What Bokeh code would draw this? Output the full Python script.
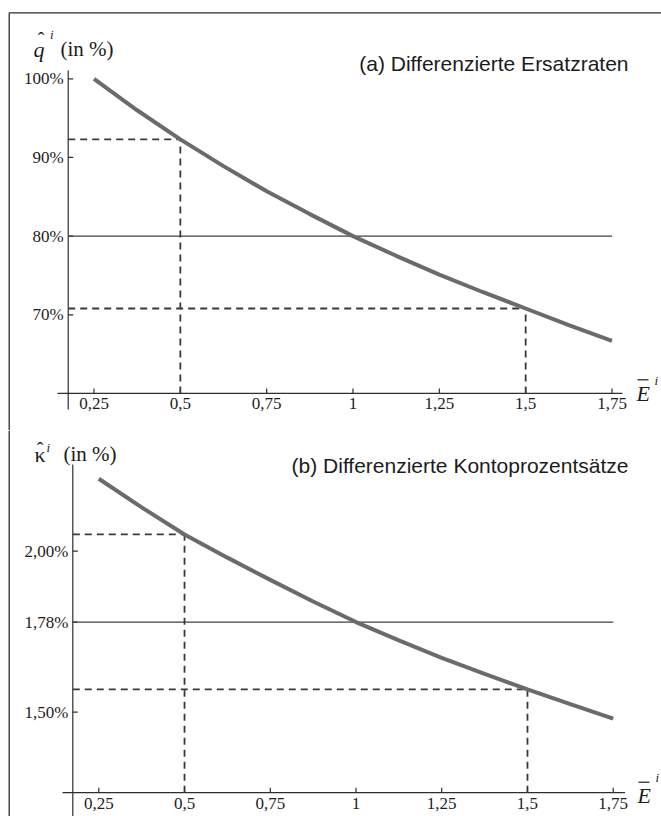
from bokeh.plotting import figure
from bokeh.layouts import column
from bokeh.models import Range1d
from bokeh.core.properties import value
from bokeh.embed import file_html
from bokeh.resources import INLINE

# ---------------- data ----------------
E_vals = [0.25, 0.375, 0.5, 0.625, 0.75, 0.875, 1.0, 1.125, 1.25, 1.375, 1.5, 1.625, 1.75]
q_hat = [100.0, 96.0, 92.3, 88.9, 85.7, 82.8, 80.0, 77.5, 75.1, 72.9, 70.8, 68.7, 66.7]          # in %
kappa_hat = [2.225, 2.136, 2.052, 1.980, 1.911, 1.844, 1.780, 1.723, 1.669, 1.619, 1.571, 1.525, 1.480]  # in %

x_ticks = [0.25, 0.5, 0.75, 1.0, 1.25, 1.5, 1.75]
x_tick_labels = ["0,25", "0,5", "0,75", "1", "1,25", "1,5", "1,75"]
q_ticks = [100, 90, 80, 70]
q_tick_labels = ["100%", "90%", "80%", "70%"]
k_ticks = [2.00, 1.78, 1.50]
k_tick_labels = ["2,00%", "1,78%", "1,50%"]

ref_E = [0.5, 1.5]           # dashed guide points
ref_q = [92.3, 70.8]
ref_k = [2.052, 1.571]
base_E_end = 1.75            # solid reference line at E = 1 level
base_q = 80.0
base_k = 1.78
q_axis_min = 60.0            # level where horizontal axis crosses
k_axis_min = 1.25

title_a = "(a) Differenzierte Ersatzraten"
title_b = "(b) Differenzierte Kontoprozentsätze"

# ---------------- layout (page pixels) ----------------
W = 661
PAGE_X0 = 0
SERIF = value("Liberation Serif")
SANS = value("Liberation Sans")
INK = "#1c1c1c"
AXIS = "#2e2e2e"
CURVE = "#6b6b6b"
DASH = "#3a3a3a"


class PixelMap:
    """maps absolute page pixels to data values for one panel"""
    def __init__(self, top, height, xa, xb, ya, yb):
        self.top, self.height = top, height
        self.xa, self.ya = xa, ya
        self.sx = (xb[1] - xa[1]) / (xb[0] - xa[0])
        self.sy = (yb[1] - ya[1]) / (yb[0] - ya[0])

    def X(self, px):
        return self.xa[1] + (px - self.xa[0]) * self.sx

    def Y(self, py):
        return self.ya[1] + (py - self.ya[0]) * self.sy

    def ranges(self):
        return (Range1d(self.X(PAGE_X0), self.X(PAGE_X0 + W)),
                Range1d(self.Y(self.top + self.height), self.Y(self.top)))


def txt(p, x, y, s, font=SERIF, size="17px", style="normal", align="left"):
    p.text(x=x, y=y, text=s, text_font=font, text_font_size=size, text_font_style=style,
           text_align=align, text_baseline="middle", text_color=INK)


def make_panel(M, yvals, yticks, ylabels, ref_y, base_y, axis_min, title, cfg):
    xr, yr = M.ranges()
    p = figure(width=W, height=M.height, x_range=xr, y_range=yr,
               output_backend="svg", toolbar_location=None,
               x_axis_location=None, y_axis_location=None,
               min_border=0, outline_line_color=None,
               background_fill_color="white", border_fill_color="white")
    p.grid.visible = False

    bottom_px = M.top + M.height
    E_axis = M.X(cfg["yaxis_px"])

    # outer frame (left and top edge)
    p.segment(x0=[M.X(8.7)], y0=[M.Y(cfg["frame_top"])], x1=[M.X(8.7)], y1=[M.Y(bottom_px)],
              line_color=AXIS, line_width=1.3)
    if cfg.get("draw_top"):
        p.segment(x0=[M.X(8.7)], y0=[M.Y(cfg["frame_top"])], x1=[M.X(PAGE_X0 + W)],
                  y1=[M.Y(cfg["frame_top"])], line_color=AXIS, line_width=1.3)

    # axes (crossing lines)
    p.segment(x0=[E_axis], y0=[M.Y(cfg["yaxis_top"])], x1=[E_axis], y1=[M.Y(cfg["yaxis_bottom"])],
              line_color=AXIS, line_width=1.2)
    p.segment(x0=[M.X(cfg["xaxis_left"])], y0=[axis_min], x1=[M.X(cfg["xaxis_right"])], y1=[axis_min],
              line_color=AXIS, line_width=1.2)

    # ticks (inside)
    tx = 5 * M.sx
    ty = -5 * M.sy
    p.segment(x0=[E_axis] * len(yticks), y0=yticks, x1=[E_axis + tx] * len(yticks), y1=yticks,
              line_color=AXIS, line_width=1.2)
    p.segment(x0=x_ticks, y0=[axis_min] * len(x_ticks), x1=x_ticks,
              y1=[axis_min + ty] * len(x_ticks), line_color=AXIS, line_width=1.2)

    # tick labels
    txt(p, [E_axis - 4.5 * M.sx] * len(yticks), yticks, ylabels, align="right")
    txt(p, x_ticks, [axis_min + 10.5 * M.sy] * len(x_ticks), x_tick_labels, align="center")

    # solid reference level
    p.segment(x0=[E_axis], y0=[base_y], x1=[base_E_end], y1=[base_y], line_color="#404040", line_width=1.2)

    # dashed guides
    p.segment(x0=[E_axis] * len(ref_E), y0=ref_y, x1=ref_E, y1=ref_y,
              line_color=DASH, line_width=1.8, line_dash="7 5")
    p.segment(x0=ref_E, y0=[axis_min] * len(ref_E), x1=ref_E, y1=ref_y,
              line_color=DASH, line_width=1.8, line_dash="7 5")

    # curve
    p.line(E_vals, yvals, line_color=CURVE, line_width=4)

    # panel title
    txt(p, [M.X(628)], [M.Y(cfg["title_c"])], [title], font=SANS, size="21px", align="right")

    # y label: symbol with hat, superscript i, "(in %)"
    lc = cfg["label_c"]
    txt(p, [M.X(cfg["sym_x"])], [M.Y(lc)], [cfg["symbol"]], size="22px", style=cfg["sym_style"])
    txt(p, [M.X(cfg["hat_x"])], [M.Y(cfg["hat_c"])], ["\u02c6"], size="20px", align="center")
    txt(p, [M.X(cfg["sup_x"])], [M.Y(cfg["sup_c"])], ["i"], size="13px", style="italic")
    txt(p, [M.X(cfg["in_x"])], [M.Y(lc)], ["(in %)"], size="21px")

    # x label: E with overline and superscript i
    ec = cfg["E_c"]
    ex = cfg["E_x"]
    txt(p, [M.X(ex)], [M.Y(ec)], ["E"], size="22px", style="italic")
    p.segment(x0=[M.X(ex + 1)], y0=[M.Y(cfg["bar_y"])], x1=[M.X(ex + 12)], y1=[M.Y(cfg["bar_y"])],
              line_color=INK, line_width=1.2)
    txt(p, [M.X(ex + 18)], [M.Y(cfg["Esup_c"])], ["i"], size="13px", style="italic")
    return p


M_top = PixelMap(0, 430, (93.5, x_ticks[0]), (611.5, x_ticks[-1]), (78.3, q_ticks[0]), (314.3, q_ticks[-1]))
M_bot = PixelMap(430, 386, (98.3, x_ticks[0]), (612.7, x_ticks[-1]), (550.7, k_ticks[0]), (711.7, k_ticks[-1]))

cfg_top = dict(frame_top=12.3, draw_top=True, yaxis_px=67.7, yaxis_top=70, yaxis_bottom=409,
               xaxis_left=57, xaxis_right=622, title_c=63,
               label_c=48.7, symbol="q", sym_style="italic", sym_x=33, hat_x=40.5, hat_c=39,
               sup_x=49.5, sup_c=34, in_x=60, E_c=393.3, E_x=636, bar_y=379.3, Esup_c=380)
cfg_bot = dict(frame_top=430, draw_top=False, yaxis_px=72.3, yaxis_top=464, yaxis_bottom=816,
               xaxis_left=62, xaxis_right=624.5, title_c=465,
               label_c=453.5, symbol="\u03ba", sym_style="normal", sym_x=34, hat_x=39.5, hat_c=449.5,
               sup_x=46, sup_c=446.5, in_x=63, E_c=795, E_x=637, bar_y=781.7, Esup_c=777)

p_top = make_panel(M_top, q_hat, q_ticks, q_tick_labels, ref_q, base_q, q_axis_min, title_a, cfg_top)
p_bot = make_panel(M_bot, kappa_hat, k_ticks, k_tick_labels, ref_k, base_k, k_axis_min, title_b, cfg_bot)

layout = column(p_top, p_bot, spacing=0)

with open("out.html", "w") as f:
    f.write(file_html(layout, INLINE))
